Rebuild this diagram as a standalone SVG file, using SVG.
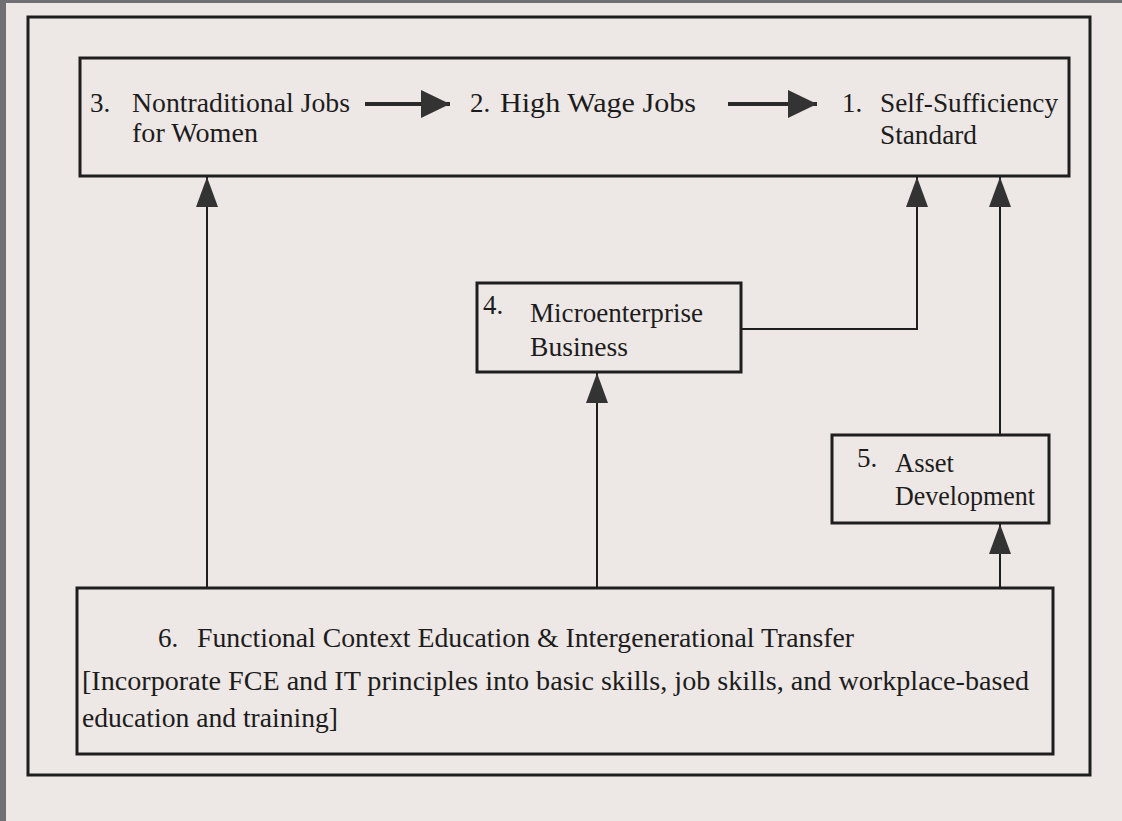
<svg xmlns="http://www.w3.org/2000/svg" width="1122" height="821" viewBox="0 0 1122 821">
<style>
.box{fill:none;stroke:#1e1e1e;stroke-width:3}
.t{font-family:"Liberation Serif","Times New Roman",serif;font-size:27px;fill:#1c1c1c}
.c{fill:none;stroke:#1e1e1e;stroke-width:2}
.h{fill:none;stroke:#2a2a2a;stroke-width:4}
</style>
<defs>
<marker id="up" markerUnits="userSpaceOnUse" viewBox="0 0 30 24" refX="30" refY="12" markerWidth="30" markerHeight="24" orient="auto">
<path d="M0,1 L30,12 L0,23 z" fill="#333"/>
</marker>
<marker id="rt" markerUnits="userSpaceOnUse" viewBox="0 0 29 28" refX="29" refY="14" markerWidth="29" markerHeight="28" orient="auto">
<path d="M0,0 L29,14 L0,28 z" fill="#333"/>
</marker>
</defs>
<rect x="0" y="0" width="1122" height="821" fill="#ede7e5"/>
<rect x="0" y="0" width="1122" height="3" fill="#6f6f74"/>
<rect x="0" y="0" width="6" height="821" fill="#6f6f74"/>
<rect x="28" y="17" width="1062" height="758" class="box"/>

<g id="connectors">
<line x1="365" y1="104" x2="450" y2="104" class="h" marker-end="url(#rt)"/>
<line x1="728" y1="104" x2="817" y2="104" class="h" marker-end="url(#rt)"/>
<line x1="207" y1="588" x2="207" y2="177" class="c" marker-end="url(#up)"/>
<line x1="597" y1="588" x2="597" y2="373" class="c" marker-end="url(#up)"/>
<polyline points="741,329 917,329 917,177" class="c" marker-end="url(#up)"/>
<line x1="1000" y1="435" x2="1000" y2="177" class="c" marker-end="url(#up)"/>
<line x1="1000" y1="588" x2="1000" y2="524" class="c" marker-end="url(#up)"/>
</g>

<g id="top">
<rect x="80" y="58" width="989" height="118" class="box"/>
<g id="node3">
<text class="t" x="90" y="112">3.</text>
<text class="t" x="132" y="112" textLength="218" lengthAdjust="spacingAndGlyphs">Nontraditional Jobs</text>
<text class="t" x="132" y="142" textLength="126" lengthAdjust="spacingAndGlyphs">for Women</text>
</g>
<g id="node2">
<text class="t" x="470" y="112">2.</text>
<text class="t" x="500" y="112" textLength="196" lengthAdjust="spacingAndGlyphs">High Wage Jobs</text>
</g>
<g id="node1">
<text class="t" x="842" y="112">1.</text>
<text class="t" x="880" y="112" textLength="178" lengthAdjust="spacingAndGlyphs">Self-Sufficiency</text>
<text class="t" x="880" y="144" textLength="97" lengthAdjust="spacingAndGlyphs">Standard</text>
</g>
</g>

<g id="node4">
<rect x="477" y="283" width="264" height="89" class="box"/>
<text class="t" x="483" y="314">4.</text>
<text class="t" x="530" y="322" textLength="173" lengthAdjust="spacingAndGlyphs">Microenterprise</text>
<text class="t" x="530" y="356" textLength="98" lengthAdjust="spacingAndGlyphs">Business</text>
</g>

<g id="node5">
<rect x="832" y="435" width="217" height="88" class="box"/>
<text class="t" x="857" y="467">5.</text>
<text class="t" x="895" y="472" textLength="59" lengthAdjust="spacingAndGlyphs">Asset</text>
<text class="t" x="895" y="505" textLength="140" lengthAdjust="spacingAndGlyphs">Development</text>
</g>

<g id="node6">
<rect x="77" y="588" width="976" height="166" class="box"/>
<text class="t" x="158" y="647">6.</text>
<text class="t" x="197" y="647" textLength="657" lengthAdjust="spacingAndGlyphs">Functional Context Education &amp; Intergenerational Transfer</text>
<text class="t" x="82" y="690" textLength="947" lengthAdjust="spacingAndGlyphs">[Incorporate FCE and IT principles into basic skills, job skills, and workplace-based</text>
<text class="t" x="82" y="727" textLength="256" lengthAdjust="spacingAndGlyphs">education and training]</text>
</g>
</svg>
